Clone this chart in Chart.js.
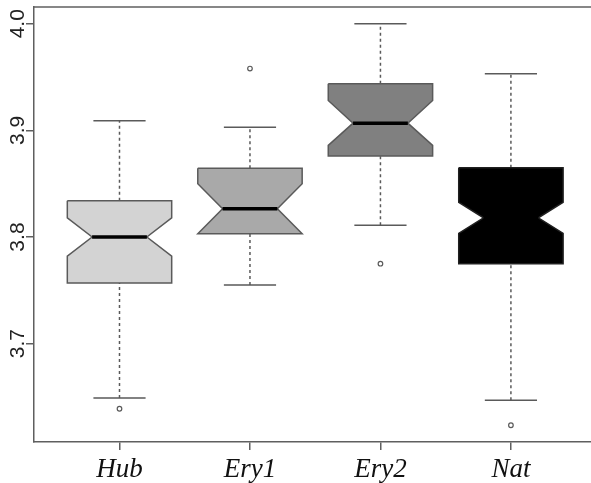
<!DOCTYPE html>
<html>
<head>
<meta charset="utf-8">
<script src="https://cdn.jsdelivr.net/npm/chart.js@4.4.1/dist/chart.umd.min.js"></script>
<style>
  html, body { margin: 0; padding: 0; background: #ffffff; }
  canvas { display: block; }
</style>
</head>
<body>
<canvas id="c" width="591" height="483"></canvas>
<script>
// ---- data ----
const categories  = ['Hub', 'Ery1', 'Ery2', 'Nat'];
const whiskerLow  = [3.649, 3.755, 3.811, 3.647];
const q1          = [3.757, 3.803, 3.876, 3.775];
const notchLow    = [3.782, 3.803, 3.886, 3.8035];
const median      = [3.800, 3.8266, 3.9068, 3.818];
const notchHigh   = [3.818, 3.850, 3.928, 3.8325];
const q3          = [3.834, 3.8645, 3.9437, 3.865];
const whiskerHigh = [3.909, 3.903, 4.000, 3.953];
const outliers    = [[3.639], [3.958], [3.775], [3.6235]];
const yTicks      = [3.7, 3.8, 3.9, 4.0];

// ---- styles ----
const boxFills   = ['#d3d3d3', '#a9a9a9', '#808080', '#000000'];
const strokeCol  = '#5a5a5a';
const BOX_HALF   = 0.4;
const NOTCH_HALF = 0.21;
const CAP_HALF   = 0.2;

const datasets = [];

// boxes (notched polygons)
categories.forEach((c, i) => {
  const x = i + 1;
  datasets.push({
    label: c + ' box',
    showLine: true,
    polyFill: boxFills[i],
    borderColor: i === 3 ? '#202020' : strokeCol,
    borderWidth: 1.5,
    borderJoinStyle: 'miter',
    pointRadius: 0,
    tension: 0,
    order: 3,
    data: [
      {x: x - BOX_HALF, y: q3[i]},
      {x: x + BOX_HALF, y: q3[i]},
      {x: x + BOX_HALF, y: notchHigh[i]},
      {x: x + NOTCH_HALF, y: median[i]},
      {x: x + BOX_HALF, y: notchLow[i]},
      {x: x + BOX_HALF, y: q1[i]},
      {x: x - BOX_HALF, y: q1[i]},
      {x: x - BOX_HALF, y: notchLow[i]},
      {x: x - NOTCH_HALF, y: median[i]},
      {x: x - BOX_HALF, y: notchHigh[i]},
      {x: x - BOX_HALF, y: q3[i]}
    ]
  });
});

// medians
categories.forEach((c, i) => {
  const x = i + 1;
  datasets.push({
    label: c + ' median',
    showLine: true,
    borderColor: '#000000',
    borderWidth: 3.5,
    pointRadius: 0,
    order: 1,
    data: [{x: x - NOTCH_HALF, y: median[i]}, {x: x + NOTCH_HALF, y: median[i]}]
  });
});

// whiskers (dashed)
const whiskerData = [];
categories.forEach((c, i) => {
  const x = i + 1;
  whiskerData.push({x: x, y: q3[i]}, {x: x, y: whiskerHigh[i]}, {x: x, y: null});
  whiskerData.push({x: x, y: whiskerLow[i]}, {x: x, y: q1[i]}, {x: x, y: null});
});
datasets.push({
  label: 'whiskers',
  showLine: true,
  spanGaps: false,
  borderColor: strokeCol,
  borderWidth: 1.5,
  borderDash: [3, 3],
  pointRadius: 0,
  order: 4,
  data: whiskerData
});

// caps
const capData = [];
categories.forEach((c, i) => {
  const x = i + 1;
  capData.push({x: x - CAP_HALF, y: whiskerHigh[i]}, {x: x + CAP_HALF, y: whiskerHigh[i]}, {x: x, y: null});
  capData.push({x: x - CAP_HALF, y: whiskerLow[i]}, {x: x + CAP_HALF, y: whiskerLow[i]}, {x: x, y: null});
});
datasets.push({
  label: 'caps',
  showLine: true,
  spanGaps: false,
  borderColor: strokeCol,
  borderWidth: 1.5,
  pointRadius: 0,
  order: 4,
  data: capData
});

// outliers
const outData = [];
outliers.forEach((arr, i) => arr.forEach(v => outData.push({x: i + 1, y: v})));
datasets.push({
  label: 'outliers',
  showLine: false,
  pointStyle: 'circle',
  pointRadius: 2.3,
  pointBorderWidth: 1.2,
  pointBorderColor: strokeCol,
  pointBackgroundColor: '#ffffff',
  order: 1,
  data: outData
});

const polyFillPlugin = {
  id: 'polyFill',
  beforeDatasetDraw(chart, args) {
    const ds = chart.data.datasets[args.index];
    if (!ds.polyFill) return;
    const pts = args.meta.data;
    const ctx = chart.ctx;
    ctx.save();
    ctx.beginPath();
    pts.forEach((p, k) => { if (k === 0) ctx.moveTo(p.x, p.y); else ctx.lineTo(p.x, p.y); });
    ctx.closePath();
    ctx.fillStyle = ds.polyFill;
    ctx.fill();
    ctx.restore();
  }
};

const topFramePlugin = {
  id: 'topFrame',
  afterDraw(chart) {
    const a = chart.chartArea, ctx = chart.ctx;
    ctx.save();
    ctx.strokeStyle = '#5f5f5f';
    ctx.lineWidth = 1.5;
    ctx.beginPath();
    ctx.moveTo(a.left, a.top);
    ctx.lineTo(a.right, a.top);
    ctx.stroke();
    ctx.restore();
  }
};

function noPad(s) {
  s.paddingLeft = 0; s.paddingRight = 0; s.paddingTop = 0; s.paddingBottom = 0;
}

new Chart(document.getElementById('c'), {
  type: 'scatter',
  data: { datasets },
  plugins: [polyFillPlugin, topFramePlugin],
  options: {
    responsive: false,
    animation: false,
    layout: { autoPadding: false, padding: { top: 7, left: 0, right: 0, bottom: 0 } },
    plugins: { legend: { display: false }, tooltip: { enabled: false } },
    scales: {
      x: {
        type: 'linear',
        min: 0.3447,
        max: 4.6138,
        afterBuildTicks: (s) => { s.ticks = categories.map((c, i) => ({value: i + 1})); },
        afterFit: (s) => { s.height = 41; noPad(s); },
        ticks: {
          callback: (v) => categories[v - 1],
          font: { family: 'Liberation Serif', size: 27, style: 'italic' },
          color: '#111111',
          padding: 4,
          maxRotation: 0,
          minRotation: 0
        },
        grid: { drawOnChartArea: false, drawTicks: true, tickLength: 8, color: '#5f5f5f', lineWidth: 1.5 },
        border: { display: true, color: '#5f5f5f', width: 1.5 }
      },
      y: {
        type: 'linear',
        min: 3.6078,
        max: 4.0157,
        afterBuildTicks: (s) => { s.ticks = yTicks.map(v => ({value: v})); },
        afterFit: (s) => { s.width = 34; noPad(s); },
        ticks: {
          callback: (v) => v.toFixed(1),
          font: { family: 'Liberation Sans', size: 21 },
          color: '#222222',
          minRotation: 90,
          maxRotation: 90,
          crossAlign: 'center',
          padding: -7
        },
        grid: { drawOnChartArea: false, drawTicks: true, tickLength: 8, color: '#5f5f5f', lineWidth: 1.5 },
        border: { display: true, color: '#5f5f5f', width: 1.5 }
      }
    }
  }
});
</script>
</body>
</html>
